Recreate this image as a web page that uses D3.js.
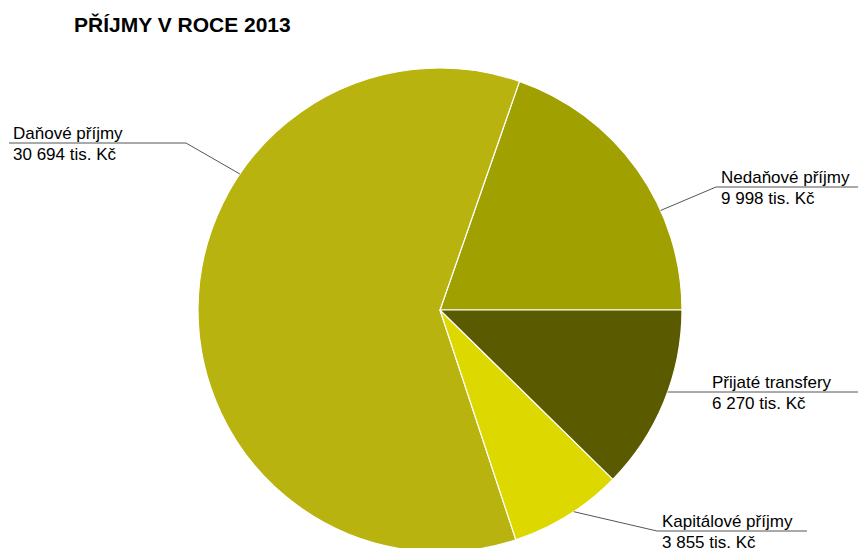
<!DOCTYPE html>
<html>
<head>
<meta charset="utf-8">
<script src="https://cdn.jsdelivr.net/npm/d3@7"></script>
<style>
  html, body { margin: 0; padding: 0; background: #fff; }
  svg { display: block; }
  text { font-family: "Liberation Sans", Arial, sans-serif; fill: #000; }
</style>
</head>
<body>
<svg id="chart" width="858" height="548"></svg>
<script>
// Revenue categories and amounts (thousands of CZK)
const categories = ["Nedaňové příjmy", "Daňové příjmy", "Kapitálové příjmy", "Přijaté transfery"];
const values = [9998, 30694, 3855, 6270];
const valueLabels = ["9 998 tis. Kč", "30 694 tis. Kč", "3 855 tis. Kč", "6 270 tis. Kč"];
const colors = ["#a0a000", "#b8b30e", "#dcd800", "#5a5a00"];

const W = 858, H = 548;
const cx = 440, cy = 310, R = 242;

const svg = d3.select("#chart");

svg.append("text")
  .attr("x", 74).attr("y", 32)
  .attr("font-size", 21).attr("font-weight", "bold")
  .text("PŘÍJMY V ROCE 2013");

const data = categories.map((c, i) => ({ name: c, value: values[i], label: valueLabels[i], color: colors[i] }));

// Slices run counter-clockwise starting from the 3 o'clock position
const pie = d3.pie()
  .value(d => d.value)
  .sort(null)
  .startAngle(Math.PI / 2)
  .endAngle(Math.PI / 2 - 2 * Math.PI);

const arcs = pie(data);
const arc = d3.arc().innerRadius(0).outerRadius(R);

const g = svg.append("g").attr("transform", `translate(${cx},${cy})`);
g.selectAll("path")
  .data(arcs)
  .join("path")
  .attr("d", arc)
  .attr("fill", d => d.data.color)
  .attr("stroke", "#ffffff")
  .attr("stroke-width", 1.2)
  .attr("stroke-linejoin", "round");

// Point on the pie rim at a given d3 angle (clockwise from 12 o'clock)
const rim = a => [cx + R * Math.sin(a), cy - R * Math.cos(a)];

// Leader line layout per slice: rim angle, elbow point, line end and text anchor
const labelLayout = {
  "Nedaňové příjmy":   { angle: 1.147, elbow: [716, 187], end: 858, tx: 721 },
  "Daňové příjmy":     { angle: -0.974, elbow: [186, 143], end: 9, tx: 13 },
  "Kapitálové příjmy": { angle: 2.556, elbow: [657, 531], end: 807, tx: 662 },
  "Přijaté transfery": { angle: null, elbow: null, end: 858, tx: 712, y: 392 }
};

const labels = svg.append("g");
arcs.forEach(a => {
  const L = labelLayout[a.data.name];
  let pts, ly;
  if (L.elbow) {
    pts = [rim(L.angle), L.elbow, [L.end, L.elbow[1]]];
    ly = L.elbow[1];
  } else {
    const x0 = cx + Math.sqrt(R * R - (L.y - cy) * (L.y - cy));
    pts = [[x0, L.y], [L.end, L.y]];
    ly = L.y;
  }
  labels.append("path")
    .attr("d", d3.line()(pts))
    .attr("fill", "none")
    .attr("stroke", "#555")
    .attr("stroke-width", 1);
  labels.append("text")
    .attr("x", L.tx).attr("y", ly - 4)
    .attr("font-size", 17)
    .text(a.data.name);
  labels.append("text")
    .attr("x", L.tx).attr("y", ly + 17)
    .attr("font-size", 17)
    .text(a.data.label);
});
</script>
</body>
</html>
